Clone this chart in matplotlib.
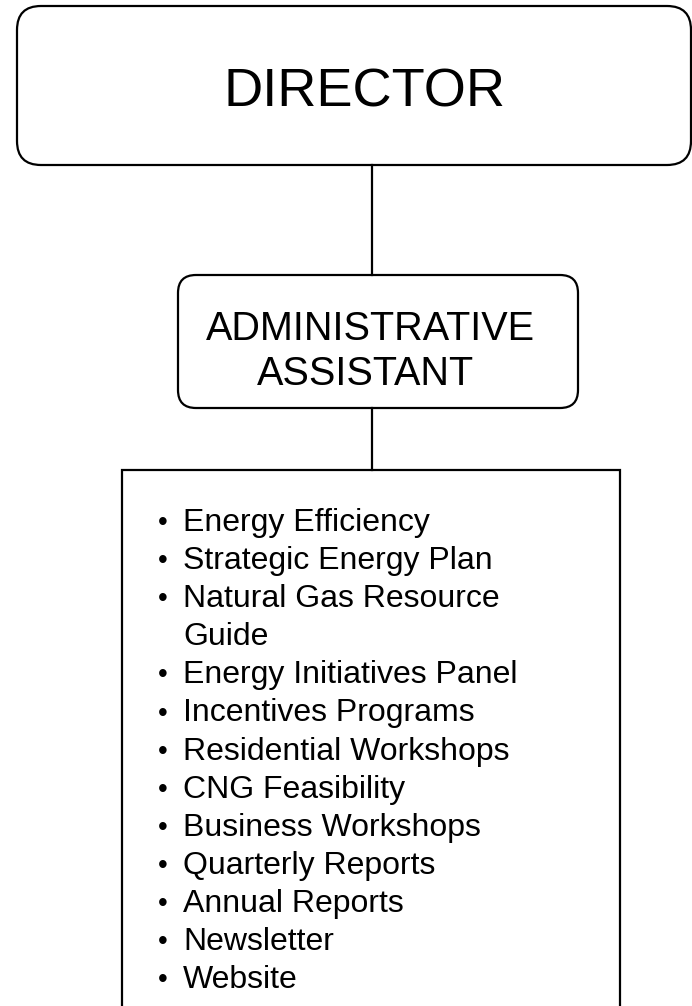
import matplotlib.pyplot as plt
from matplotlib.patches import FancyBboxPatch, Rectangle

plt.rcParams['font.family'] = ['Liberation Sans', 'DejaVu Sans']

# chart content
top_title = "DIRECTOR"
mid_title = "ADMINISTRATIVE\nASSISTANT"
items = [
    "Energy Efficiency",
    "Strategic Energy Plan",
    "Natural Gas Resource\nGuide",
    "Energy Initiatives Panel",
    "Incentives Programs",
    "Residential Workshops",
    "CNG Feasibility",
    "Business Workshops",
    "Quarterly Reports",
    "Annual Reports",
    "Newsletter",
    "Website",
]

fig = plt.figure(figsize=(6.92, 10.06), dpi=100)
ax = fig.add_axes([0, 0, 1, 1])
ax.set_xlim(0, 692)
ax.set_ylim(1006, 0)
ax.set_axis_off()

lw = 1.6

# director box
r = 24
ax.add_patch(FancyBboxPatch((17 + r, 6 + r), 691 - 17 - 2 * r, 165 - 6 - 2 * r,
                            boxstyle=f"round,pad={r}", fc='white', ec='black',
                            lw=lw, clip_on=False))
ax.text(364, 92, top_title, fontsize=39, ha='center', va='center')

# connector
ax.plot([372, 372], [165, 275], color='black', lw=lw)

# admin box
r2 = 18
ax.add_patch(FancyBboxPatch((178 + r2, 275 + r2), 578 - 178 - 2 * r2, 408 - 275 - 2 * r2,
                            boxstyle=f"round,pad={r2}", fc='white', ec='black', lw=lw))
line1, line2 = mid_title.split("\n")
ax.text(370, 329, line1, fontsize=28.5, ha='center', va='center')
ax.text(365, 374, line2, fontsize=28.5, ha='center', va='center')

ax.plot([372, 372], [408, 470], color='black', lw=lw)

# list box
ax.add_patch(Rectangle((122, 470), 620 - 122, 560, fc='white', ec='black', lw=lw))

y0, step = 523, 38.1
row = 0
for item in items:
    parts = item.split("\n")
    ax.text(163, y0 + row * step, "\u2022", fontsize=20, ha='center', va='center')
    for p in parts:
        ax.text(183, y0 + row * step, p, fontsize=23, ha='left', va='center')
        row += 1

fig.savefig("out.png", dpi=100)
